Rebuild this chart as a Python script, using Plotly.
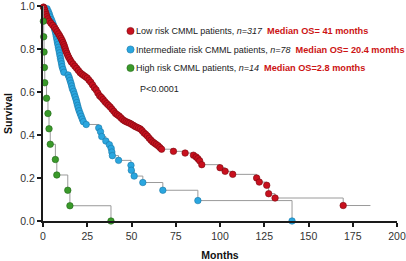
import plotly.graph_objects as go

# ---- data (months, survival probability) ----
low_t = [0.3, 0.6, 1.0, 1.4, 1.8, 2.2, 2.8, 3.5, 4.5, 5.5, 6.5, 7.3, 8.0, 8.8, 9.5, 10.2,
         10.8, 11.3, 11.8, 12.2, 12.6, 13.0, 13.5, 14.0, 14.6, 15.3, 16.0, 17.0, 18.0, 19.0,
         20.0, 21.0, 22.0, 23.0, 24.0, 25.0, 26.0, 27.0, 28.0, 29.0, 30.0, 31.0, 32.0, 33.0,
         34.0, 35.0, 36.0, 37.0, 38.0, 39.0, 40.0, 41.0, 42.0, 43.0, 44.0, 45.0, 46.0, 47.0,
         48.0, 49.0, 50.0, 51.0, 52.0, 53.0, 54.0, 55.0, 56.0, 57.0, 58.0, 59.0, 60.0, 61.0,
         62.0, 63.0, 64.0, 65.0, 66.0, 67.0, 73.7, 80.3, 85.0, 86.5, 87.5, 88.5, 89.7, 100.0,
         102.9, 107.2, 120.7, 122.2, 126.4, 127.5, 131.1, 169.6]
low_s = [0.995, 0.99, 0.98, 0.97, 0.96, 0.95, 0.94, 0.93, 0.92, 0.91, 0.90, 0.89, 0.88, 0.87,
         0.86, 0.85, 0.84, 0.83, 0.82, 0.81, 0.80, 0.79, 0.78, 0.77, 0.76, 0.75, 0.74, 0.73,
         0.72, 0.71, 0.70, 0.69, 0.683, 0.677, 0.671, 0.665, 0.655, 0.645, 0.633, 0.62, 0.61,
         0.595, 0.582, 0.575, 0.565, 0.555, 0.546, 0.538, 0.53, 0.52, 0.51, 0.50, 0.494, 0.488,
         0.48, 0.472, 0.466, 0.462, 0.458, 0.455, 0.45, 0.445, 0.44, 0.436, 0.432, 0.428, 0.42,
         0.41, 0.403, 0.395, 0.385, 0.376, 0.368, 0.362, 0.356, 0.35, 0.342, 0.334, 0.324,
         0.316, 0.306, 0.298, 0.29, 0.28, 0.262, 0.248, 0.231, 0.217, 0.20, 0.181, 0.166,
         0.127, 0.107, 0.072]
low_last_followup = 185.0

int_t = [2.3, 3.0, 3.6, 4.1, 4.8, 5.4, 6.0, 6.4, 6.8, 7.2, 7.5, 7.8, 8.1, 8.4, 8.7, 9.0, 9.3,
         9.6, 9.9, 10.2, 10.5, 10.8, 11.3, 11.8, 14.2, 14.8, 15.3, 15.8, 16.2, 16.6, 17.2, 17.7,
         18.2, 18.7, 19.1, 19.5, 19.9, 20.4, 21.0, 21.6, 22.2, 22.8, 24.4, 31.5, 32.5, 33.2,
         35.5, 37.5, 38.5, 38.9, 39.2, 42.7, 49.7, 49.9, 51.5, 56.4, 67.7, 87.5, 140.7]
int_s = [0.987, 0.974, 0.962, 0.949, 0.936, 0.923, 0.910, 0.897, 0.885, 0.872, 0.859, 0.846,
         0.833, 0.821, 0.808, 0.795, 0.782, 0.769, 0.756, 0.744, 0.731, 0.718, 0.705, 0.692,
         0.679, 0.667, 0.654, 0.641, 0.628, 0.615, 0.603, 0.590, 0.577, 0.564, 0.551, 0.538,
         0.526, 0.513, 0.500, 0.487, 0.474, 0.462, 0.449, 0.433, 0.415, 0.393, 0.372, 0.355,
         0.338, 0.321, 0.304, 0.282, 0.259, 0.236, 0.209, 0.179, 0.143, 0.095, 0.0]

high_t = [0.2, 0.4, 0.6, 0.8, 1.0, 2.0, 2.8, 3.4, 4.1, 7.0, 7.8, 14.0, 15.2, 38.4]
high_s = [0.929, 0.857, 0.786, 0.714, 0.643, 0.571, 0.5, 0.429, 0.357, 0.286, 0.214,
          0.143, 0.071, 0.0]

x_ticks = [0, 25, 50, 75, 100, 125, 150, 175, 200]
y_ticks = [0.0, 0.2, 0.4, 0.6, 0.8, 1.0]

groups = [
    ("Low risk CMML patients, ", "n=317", "Median OS= 41 months", "#c8101e", "#7a0a10"),
    ("Intermediate risk CMML patients, ", "n=78", "Median OS= 20.4 months", "#2aa6df", "#1b78a8"),
    ("High risk CMML patients, ", "n=14", "Median OS=2.8 months", "#3a9a2a", "#22661a"),
]
median_color = "#cc1414"

fig = go.Figure()

series = [
    (int_t, int_s, None, groups[1]),
    (low_t, low_s, low_last_followup, groups[0]),
    (high_t, high_s, None, groups[2]),
]
for t, s, tail, g in series:
    lx = [0] + list(t)
    ly = [1.0] + list(s)
    if tail is not None:
        lx.append(tail)
        ly.append(s[-1])
    fig.add_trace(go.Scatter(x=lx, y=ly, mode="lines", line=dict(color="#9a9a9a", width=1, shape="hv"),
                             showlegend=False, hoverinfo="skip", cliponaxis=False))
    fig.add_trace(go.Scatter(x=t, y=s, mode="markers",
                             marker=dict(size=6.5, color=g[3], line=dict(color=g[4], width=0.6)),
                             showlegend=False, cliponaxis=False))

# legend-like annotations
L, R, T, B = 43, 9, 6, 40
W, H = 406 - L - R, 261 - T - B
def px2paper_x(px):
    return (px - L) / W
def px2paper_y(py):
    return 1 - (py - T) / H

rows_y = [31, 49.5, 68]
for (label, n, med, col, edge), yy in zip(groups, rows_y):
    fig.add_shape(type="circle", xref="paper", yref="paper", xsizemode="pixel", ysizemode="pixel",
                  xanchor=px2paper_x(130.5), yanchor=px2paper_y(yy), x0=-3.6, x1=3.6, y0=-3.6, y1=3.6,
                  fillcolor=col, line=dict(color=edge, width=0.6))
    fig.add_annotation(xref="paper", yref="paper", x=px2paper_x(136), y=px2paper_y(yy),
                       xanchor="left", yanchor="middle", showarrow=False, borderpad=0, borderwidth=0,
                       text=(f"{label}<i>{n}</i>&nbsp;&nbsp;<b><span style='color:{median_color};"
                             f"font-size:9.2px'>{med}</span></b>"),
                       font=dict(size=9.0, color="#222222", family="Liberation Sans, Arial"))

fig.add_annotation(xref="paper", yref="paper", x=px2paper_x(139.5), y=px2paper_y(89),
                   xanchor="left", yanchor="middle", showarrow=False, borderpad=0, borderwidth=0,
                   text="P<0.0001",
                   font=dict(size=9.0, color="#222222", family="Liberation Sans, Arial"))

axis_common = dict(showline=True, linewidth=2, linecolor="#1a1a1a", ticks="outside", ticklen=4,
                   tickwidth=1.5, tickcolor="#1a1a1a", showgrid=False, zeroline=False,
                   ticklabeloverflow="allow", automargin=False,
                   tickfont=dict(size=10.5, color="#333333", family="Liberation Sans, Arial"))

fig.update_xaxes(range=[0, 200], tickvals=x_ticks, ticktext=[str(v) for v in x_ticks],
                 title=dict(text="<b>Months</b>", standoff=15,
                            font=dict(size=10.5, color="#111111", family="Liberation Sans, Arial")),
                 **axis_common)
fig.update_yaxes(range=[0, 1], tickvals=y_ticks, ticktext=[f"{v:.1f}" for v in y_ticks],
                 title=dict(text="<b>Survival</b>", standoff=6,
                            font=dict(size=10.5, color="#111111", family="Liberation Sans, Arial")),
                 **axis_common)

fig.update_layout(width=406, height=261, margin=dict(l=L, r=R, t=T, b=B, autoexpand=False),
                  plot_bgcolor="white", paper_bgcolor="white", showlegend=False)

fig.write_html("out.html", config={"displayModeBar": False},
               post_script="document.body.style.margin='0px';document.body.style.padding='0px';")
